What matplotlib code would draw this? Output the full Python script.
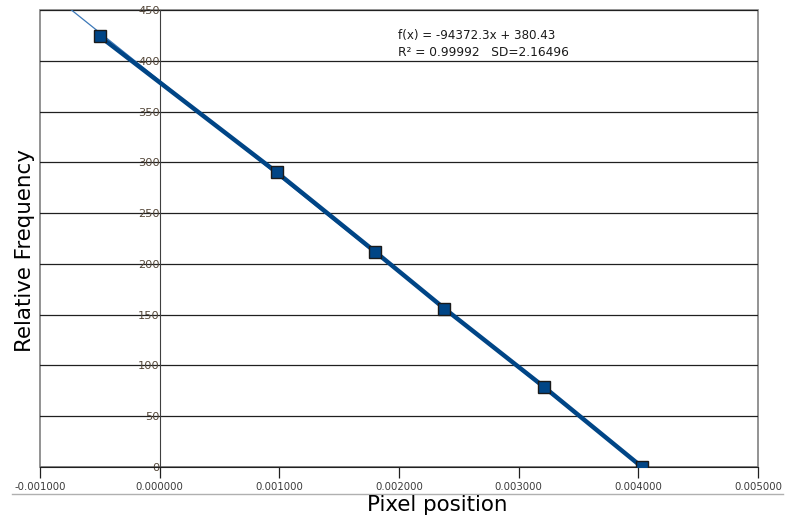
import numpy as np
import matplotlib
matplotlib.use("Agg")
import matplotlib.pyplot as plt
from matplotlib.lines import Line2D
from matplotlib.patches import Rectangle

# Data
pixel_pos = [-0.0005, 0.00098, 0.0018, 0.00238, 0.00321, 0.00403]
rel_freq = [424, 290, 212, 156, 79, 0]

# Linear fit shown in the chart
slope = -94372.3
intercept = 380.43
eq_line1 = "f(x) = -94372.3x + 380.43"
eq_line2 = "R² = 0.99992   SD=2.16496"

x_ticks = [-0.001, 0.0, 0.001, 0.002, 0.003, 0.004, 0.005]
y_ticks = [0, 50, 100, 150, 200, 250, 300, 350, 400, 450]

fig = plt.figure(figsize=(7.87, 5.20), dpi=100)
ax = fig.add_axes([40 / 787, 53 / 520, 718 / 787, 457 / 520])

ax.set_xlim(-0.001, 0.005)
ax.set_ylim(0, 450)

# horizontal grid lines
for yv in y_ticks:
    ax.axhline(yv, color="#202020", lw=0.9, zorder=1)

# trend line across the full x range (clipped by axes)
xs = np.array(ax.get_xlim())
ax.plot(xs, slope * xs + intercept, color="#3c78b8", lw=0.9, zorder=2)

# data line + markers
ax.plot(pixel_pos, rel_freq, color="#004586", lw=3.2, zorder=3,
        solid_capstyle="butt")
ax.plot(pixel_pos, rel_freq, ls="none", marker="s", markersize=9,
        markerfacecolor="#004586", markeredgecolor="#1a1a1a",
        markeredgewidth=1.0, zorder=4)

# spines: y axis sits at x = 0
for s in ["top", "right"]:
    ax.spines[s].set_visible(False)
ax.spines["left"].set_position(("data", 0))
ax.spines["left"].set_color("#404040")
ax.spines["bottom"].set_color("#202020")
ax.add_patch(Rectangle((0, 0), 1, 1, transform=ax.transAxes, fill=False,
                       edgecolor="#808080", lw=1.2, zorder=0, clip_on=False))

ax.set_xticks(x_ticks)
ax.set_xticklabels([f"{v:.6f}" for v in x_ticks])
ax.set_yticks(y_ticks)
ax.set_yticklabels([str(v) for v in y_ticks])
ax.tick_params(axis="x", direction="out", length=8, width=0.9,
               color="#202020", labelsize=7.3, labelcolor="#3a3a3a", pad=3)
ax.tick_params(axis="y", length=0, labelsize=8.2, labelcolor="#55483a", pad=0)
for lbl in ax.get_yticklabels():
    lbl.set_zorder(5)

# axis titles placed where the reference has them
fig.text(437 / 787, 1 - 505 / 520, "Pixel position", fontsize=15.4,
         ha="center", va="center")
fig.text(25 / 787, 1 - 251 / 520, "Relative Frequency", fontsize=15.4,
         rotation=90, ha="center", va="center")

# equation text
fig.text(398 / 787, 1 - 35 / 520, eq_line1, fontsize=8.6, va="center",
         color="#1a1a1a")
fig.text(398 / 787, 1 - 52 / 520, eq_line2, fontsize=8.8, va="center",
         color="#1a1a1a")

# thin gray separator under the tick labels
fig.add_artist(Line2D([12 / 787, 783 / 787], [1 - 494 / 520, 1 - 494 / 520],
                      color="#b0b0b0", lw=1.0, transform=fig.transFigure))

fig.savefig("out.png", dpi=100)
